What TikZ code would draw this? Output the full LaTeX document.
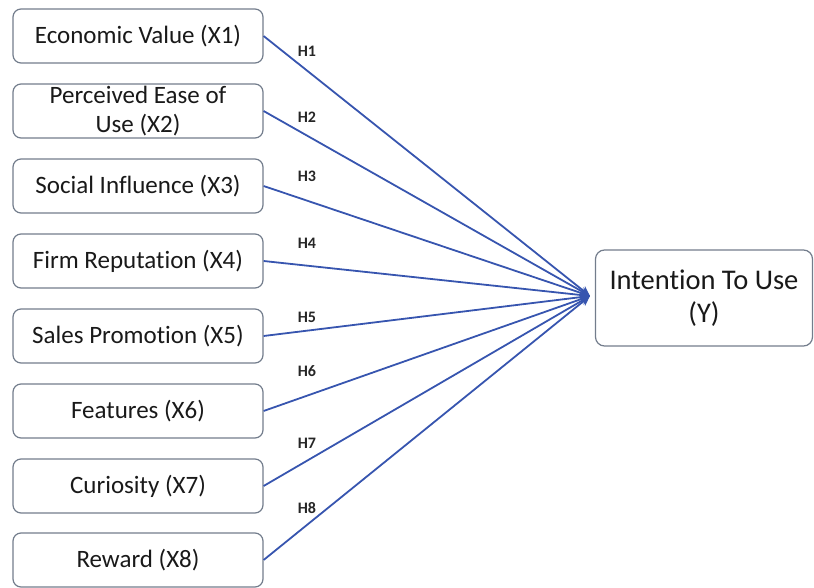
\documentclass[tikz,border=0pt]{standalone}
\usepackage{fontspec}
\setmainfont[Ligatures=NoCommon]{Carlito}
\usetikzlibrary{arrows.meta}
\definecolor{boxline}{RGB}{115,125,140}
\definecolor{arrowblue}{RGB}{55,85,175}
\begin{document}
\begin{tikzpicture}[x=1pt,y=-1pt,
  varbox/.style={draw=boxline,line width=1.2pt,rounded corners=8pt,minimum width=250pt,minimum height=54pt,inner sep=2pt,align=center,font=\fontsize{25}{29}\selectfont,text=black!90},
  ybox/.style={draw=boxline,line width=1.2pt,rounded corners=9pt,minimum width=217pt,minimum height=96pt,align=center,font=\fontsize{28.5}{33}\selectfont,text=black!90},
  hyp/.style={font=\bfseries\fontsize{16}{17}\selectfont,text=black!85},
  link/.style={draw=arrowblue,line width=1.8pt,-{Stealth[length=10pt,width=9pt]}}]
\useasboundingbox (0,0) rectangle (814,588);
\node[varbox] (x1) at (138,36) {Economic Value (X1)};
\node[varbox] (x2) at (138,111) {Perceived Ease of\\Use (X2)};
\node[varbox] (x3) at (138,186) {Social Influence (X3)};
\node[varbox] (x4) at (138,261) {Firm Reputation (X4)};
\node[varbox] (x5) at (138,336) {Sales Promotion (X5)};
\node[varbox] (x6) at (138,411) {Features (X6)};
\node[varbox] (x7) at (138,486) {Curiosity (X7)};
\node[varbox] (x8) at (138,560) {Reward (X8)};
\node[ybox] (y) at (704,298) {Intention To Use\\(Y)};
\coordinate (tip) at (590,296);
\draw[link] (x1.east) -- (tip);
\draw[link] (x2.east) -- (tip);
\draw[link] (x3.east) -- (tip);
\draw[link] (x4.east) -- (tip);
\draw[link] (x5.east) -- (tip);
\draw[link] (x6.east) -- (tip);
\draw[link] (x7.east) -- (tip);
\draw[link] (x8.east) -- (tip);
\node[hyp] (h1) at (307,51) {H1};
\node[hyp] (h2) at (307,117) {H2};
\node[hyp] (h3) at (307,176) {H3};
\node[hyp] (h4) at (307,243) {H4};
\node[hyp] (h5) at (307,317) {H5};
\node[hyp] (h6) at (307,371) {H6};
\node[hyp] (h7) at (307,443) {H7};
\node[hyp] (h8) at (307,508) {H8};
\end{tikzpicture}
\end{document}
